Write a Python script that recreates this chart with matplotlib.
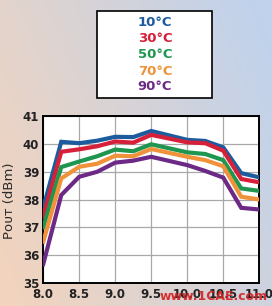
import numpy as np
import matplotlib
matplotlib.use("Agg")
import matplotlib.pyplot as plt
from matplotlib.patches import Rectangle

# frequency (GHz) and output power (dBm) for each temperature
freq = [8.0, 8.25, 8.5, 8.75, 9.0, 9.25, 9.5, 10.0, 10.25, 10.5, 10.75, 11.0]
p10 = [37.7, 40.08, 40.03, 40.12, 40.26, 40.25, 40.47, 40.15, 40.11, 39.88, 38.95, 38.8]
p30 = [37.38, 39.72, 39.81, 39.92, 40.09, 40.05, 40.33, 40.06, 40.03, 39.76, 38.74, 38.62]
p50 = [37.0, 39.17, 39.37, 39.56, 39.8, 39.74, 39.99, 39.7, 39.64, 39.42, 38.4, 38.31]
p70 = [36.48, 38.76, 39.18, 39.29, 39.58, 39.56, 39.82, 39.54, 39.42, 39.2, 38.1, 38.0]
p90 = [35.67, 38.16, 38.82, 39.0, 39.33, 39.4, 39.54, 39.24, 39.03, 38.79, 37.7, 37.64]

labels = ["10°C", "30°C", "50°C", "70°C", "90°C"]
series = [p10, p30, p50, p70, p90]
colors = ["#1c5c9e", "#d6203a", "#1f9650", "#f0923a", "#6c2a86"]

xticks = [8.0, 8.5, 9.0, 9.5, 10.0, 10.5, 11.0]
yticks = [35, 36, 37, 38, 39, 40, 41]

fig = plt.figure(figsize=(2.72, 3.06), dpi=100)

# background gradient: peach on the left to pale blue on the right
bg = fig.add_axes([0, 0, 1, 1], zorder=-10)
gx, gy = np.meshgrid(np.linspace(0, 1, 200), np.linspace(0, 1, 200))
t = np.clip(0.75 * gx + 0.35 * gy - 0.05, 0, 1)[..., None]
c0 = np.array([242, 212, 190]) / 255.
c1 = np.array([192, 210, 236]) / 255.
bg.imshow(c0 * (1 - t) + c1 * t, aspect="auto", origin="lower", extent=[0, 1, 0, 1])
bg.axis("off")

ax = fig.add_axes([0.159, 0.076, 0.794, 0.544])
ax.set_facecolor("white")
for y, c in zip(series, colors):
    ax.plot(freq, y, color=c, lw=3.0, solid_joinstyle="miter", zorder=3)

ax.set_xlim(8.0, 11.0)
ax.set_ylim(35, 41)
ax.set_xticks(xticks)
ax.set_yticks(yticks)
ax.set_xticklabels(["%.1f" % v for v in xticks])
ax.grid(True, color="#a8a8a8", lw=0.9)
ax.tick_params(length=0, labelsize=8.5, colors="#222222", pad=4)
ax.tick_params(axis="y", pad=3)
for lab in ax.get_xticklabels() + ax.get_yticklabels():
    lab.set_fontweight("bold")
for s in ax.spines.values():
    s.set_linewidth(1.4)
    s.set_color("black")

fig.text(0.035, 0.345, "Pᴏᴜᴛ (dBm)", rotation=90, ha="center", va="center",
         fontsize=9.5, color="#2a2a2a")

# legend box
fig.patches.append(Rectangle((0.358, 0.679), 0.42, 0.284, transform=fig.transFigure,
                             facecolor="white", edgecolor="black", lw=1.2))
ys = [23, 39, 55, 71, 87]
for lab, c, yp in zip(labels, colors, ys):
    fig.text(155 / 272, 1 - yp / 306, lab, color=c, fontsize=9.5, fontweight="bold",
             ha="center", va="center")

# watermark
fig.text(0.785, 0.032, "www.1CAE.com", color="#d42020", fontsize=9, fontweight="bold",
         ha="center", va="center", alpha=0.9)

fig.savefig("out.png", dpi=100)
